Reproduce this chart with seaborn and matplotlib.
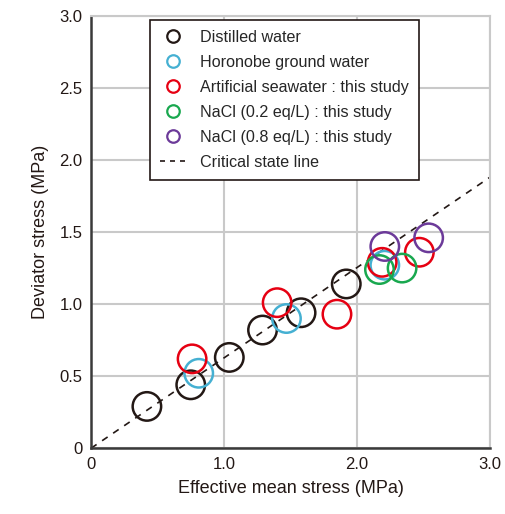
import matplotlib.pyplot as plt
import pandas as pd
import seaborn as sns
from matplotlib.lines import Line2D

# Effective mean stress p' (MPa) and deviator stress q (MPa) for each pore fluid
distilled_p = [0.42, 0.75, 1.04, 1.29, 1.58, 1.92]
distilled_q = [0.29, 0.44, 0.63, 0.82, 0.94, 1.14]
horonobe_p = [0.81, 1.47, 2.21]
horonobe_q = [0.52, 0.90, 1.27]
seawater_p = [0.76, 1.40, 1.85, 2.19, 2.47]
seawater_q = [0.62, 1.01, 0.93, 1.29, 1.36]
nacl02_p = [2.17, 2.34]
nacl02_q = [1.24, 1.25]
nacl08_p = [2.21, 2.54]
nacl08_q = [1.40, 1.46]
csl_p = [0.0, 3.0]
csl_q = [0.0, 1.88]

labels = [
    "Distilled water",
    "Horonobe ground water",
    "Artificial seawater : this study",
    "NaCl (0.2 eq/L) : this study",
    "NaCl (0.8 eq/L) : this study",
]
colors = ["#231815", "#45b0d2", "#e60012", "#19a84f", "#6c3a99"]

series = [
    (distilled_p, distilled_q),
    (horonobe_p, horonobe_q),
    (seawater_p, seawater_q),
    (nacl02_p, nacl02_q),
    (nacl08_p, nacl08_q),
]
df = pd.concat(
    [pd.DataFrame({"p": p, "q": q, "fluid": lab}) for (p, q), lab in zip(series, labels)],
    ignore_index=True,
)

sns.set_style("white")
plt.rcParams["font.family"] = ["Liberation Sans", "DejaVu Sans"]

fig = plt.figure(figsize=(5.06, 5.14), dpi=100)
ax = fig.add_axes([0.18, 0.128, 0.788, 0.841])

ax.plot(csl_p, csl_q, color="#231815", linestyle=(0, (4, 4)), linewidth=1.2, zorder=2)
sns.scatterplot(
    data=df, x="p", y="q", hue="fluid", hue_order=labels, palette=colors,
    s=420, marker="o", facecolors="none", linewidth=1.8, legend=False, ax=ax, zorder=3,
)
# hollow circles: edge colour carries the series colour
coll = ax.collections[-1]
coll.set_edgecolors([colors[labels.index(f)] for f in df["fluid"]])
coll.set_facecolors("none")

ax.set_xlim(0, 3.0)
ax.set_ylim(0, 3.0)
ax.set_xticks([0, 1.0, 2.0, 3.0])
ax.set_xticklabels(["0", "1.0", "2.0", "3.0"])
ax.set_yticks([0, 0.5, 1.0, 1.5, 2.0, 2.5, 3.0])
ax.set_yticklabels(["0", "0.5", "1.0", "1.5", "2.0", "2.5", "3.0"])
ax.tick_params(labelsize=12, length=0, pad=6, colors="#231815")
ax.grid(True, color="#c9c9c9", linewidth=1.5)
ax.set_axisbelow(True)
for side in ["top", "right"]:
    ax.spines[side].set_color("#c9c9c9")
    ax.spines[side].set_linewidth(1.5)
for side in ["left", "bottom"]:
    ax.spines[side].set_color("#3a3a3a")
    ax.spines[side].set_linewidth(1.8)
ax.set_xlabel("Effective mean stress (MPa)", fontsize=13, color="#231815", labelpad=6)
ax.set_ylabel("Deviator stress (MPa)", fontsize=13, color="#231815", labelpad=8)

handles = [
    Line2D([], [], marker="o", linestyle="none", markersize=9, markerfacecolor="none",
           markeredgecolor=c, markeredgewidth=1.6)
    for c in colors
]
handles.append(Line2D([], [], color="#231815", linestyle=(0, (3, 3)), linewidth=1.2))
leg = ax.legend(
    handles, labels + ["Critical state line"], loc="upper left",
    bbox_to_anchor=(0.148, 0.991), borderaxespad=0, fontsize=11.6, frameon=True,
    fancybox=False, handlelength=1.6, handletextpad=0.9, labelspacing=0.62,
    borderpad=0.62,
)
leg.get_frame().set_edgecolor("#231815")
leg.get_frame().set_linewidth(1.2)
leg.get_frame().set_alpha(1)

fig.savefig("out.png", dpi=100)
